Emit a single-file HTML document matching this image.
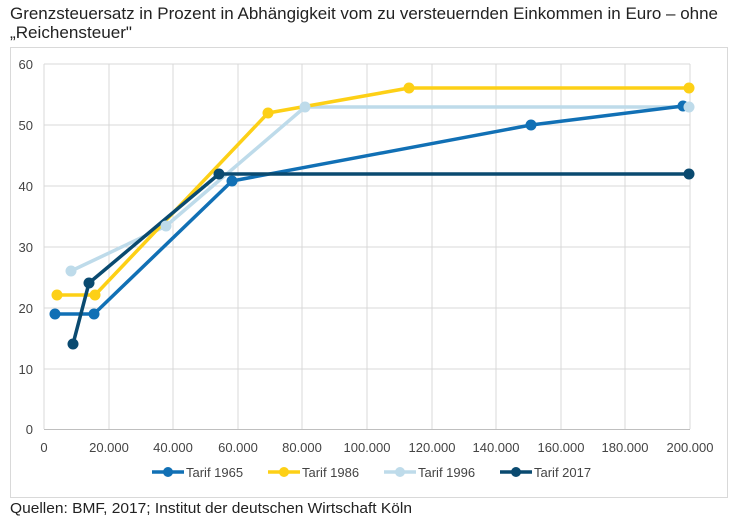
<!DOCTYPE html>
<html><head><meta charset="utf-8"><style>
html,body{margin:0;padding:0;background:#fff;}
svg{display:block;font-family:"Liberation Sans",Arial,sans-serif;}
</style></head><body>
<svg width="750" height="518" viewBox="0 0 750 518" xmlns="http://www.w3.org/2000/svg">
<text x="10" y="19" font-size="16.5" fill="#222" textLength="708" lengthAdjust="spacingAndGlyphs">Grenzsteuersatz in Prozent in Abhängigkeit vom zu versteuernden Einkommen in Euro – ohne</text>
<text x="10" y="38" font-size="16.5" fill="#222" textLength="122" lengthAdjust="spacingAndGlyphs">„Reichensteuer"</text>
<rect x="10.5" y="47.5" width="717" height="450" fill="#fff" stroke="#d9d9d9"/>
<g stroke="#d9d9d9" stroke-width="1">
<line x1="44" y1="64" x2="690" y2="64"/><line x1="44" y1="125" x2="690" y2="125"/>
<line x1="44" y1="186" x2="690" y2="186"/><line x1="44" y1="247" x2="690" y2="247"/>
<line x1="44" y1="308" x2="690" y2="308"/><line x1="44" y1="369" x2="690" y2="369"/>
<line x1="109" y1="64" x2="109" y2="429"/><line x1="173" y1="64" x2="173" y2="429"/>
<line x1="238" y1="64" x2="238" y2="429"/><line x1="302" y1="64" x2="302" y2="429"/>
<line x1="367" y1="64" x2="367" y2="429"/><line x1="432" y1="64" x2="432" y2="429"/>
<line x1="496" y1="64" x2="496" y2="429"/><line x1="561" y1="64" x2="561" y2="429"/>
<line x1="625" y1="64" x2="625" y2="429"/><line x1="690" y1="64" x2="690" y2="429"/>
<line x1="44" y1="64" x2="44" y2="429"/>
</g>
<line x1="44" y1="429.5" x2="690" y2="429.5" stroke="#bfbfbf"/>
<g font-size="13" fill="#444" text-anchor="end">
<text x="33" y="69">60</text><text x="33" y="130">50</text><text x="33" y="191">40</text>
<text x="33" y="252">30</text><text x="33" y="313">20</text><text x="33" y="374">10</text><text x="33" y="434">0</text>
</g>
<g font-size="13" fill="#444" text-anchor="middle">
<text x="44" y="452">0</text><text x="109" y="452">20.000</text><text x="173" y="452">40.000</text>
<text x="238" y="452">60.000</text><text x="302" y="452">80.000</text><text x="367" y="452">100.000</text>
<text x="432" y="452">120.000</text><text x="496" y="452">140.000</text><text x="561" y="452">160.000</text>
<text x="625" y="452">180.000</text><text x="690" y="452">200.000</text>
</g>
<g fill="none" stroke-width="3.5" stroke-linejoin="round">
<polyline stroke="#bedbea" points="71,271 166,226 305,107 689,107"/>
<polyline stroke="#fdd016" points="57,295 95,295 268,113 409,88 689,88"/>
<polyline stroke="#1170b5" points="55,314 94,314 232,181 531,125 683,106"/>
<polyline stroke="#0a4a70" points="73,344 89,283 219,174 689,174"/>
</g>
<g fill="#bedbea"><circle cx="71" cy="271" r="5.5"/><circle cx="166" cy="226" r="5.5"/><circle cx="305" cy="107" r="5.5"/></g>
<g fill="#fdd016"><circle cx="57" cy="295" r="5.5"/><circle cx="95" cy="295" r="5.5"/><circle cx="268" cy="113" r="5.5"/><circle cx="409" cy="88" r="5.5"/><circle cx="689" cy="88" r="5.5"/></g>
<g fill="#1170b5"><circle cx="55" cy="314" r="5.5"/><circle cx="94" cy="314" r="5.5"/><circle cx="232" cy="181" r="5.5"/><circle cx="531" cy="125" r="5.5"/><circle cx="683" cy="106" r="5.5"/></g>
<circle cx="689" cy="107" r="5.5" fill="#bedbea"/>
<g fill="#0a4a70"><circle cx="73" cy="344" r="5.5"/><circle cx="89" cy="283" r="5.5"/><circle cx="219" cy="174" r="5.5"/><circle cx="689" cy="174" r="5.5"/></g>
<g font-size="13" fill="#444">
<line x1="152" y1="472" x2="184" y2="472" stroke="#1170b5" stroke-width="3.5"/><circle cx="168" cy="472" r="5" fill="#1170b5"/><text x="186" y="477">Tarif 1965</text>
<line x1="268" y1="472" x2="300" y2="472" stroke="#fdd016" stroke-width="3.5"/><circle cx="284" cy="472" r="5" fill="#fdd016"/><text x="302" y="477">Tarif 1986</text>
<line x1="384" y1="472" x2="416" y2="472" stroke="#bedbea" stroke-width="3.5"/><circle cx="400" cy="472" r="5" fill="#bedbea"/><text x="418" y="477">Tarif 1996</text>
<line x1="500" y1="472" x2="532" y2="472" stroke="#0a4a70" stroke-width="3.5"/><circle cx="516" cy="472" r="5" fill="#0a4a70"/><text x="534" y="477">Tarif 2017</text>
</g>
<text x="10" y="513" font-size="14.5" fill="#222" textLength="402" lengthAdjust="spacingAndGlyphs">Quellen: BMF, 2017; Institut der deutschen Wirtschaft Köln</text>
</svg>
</body></html>
